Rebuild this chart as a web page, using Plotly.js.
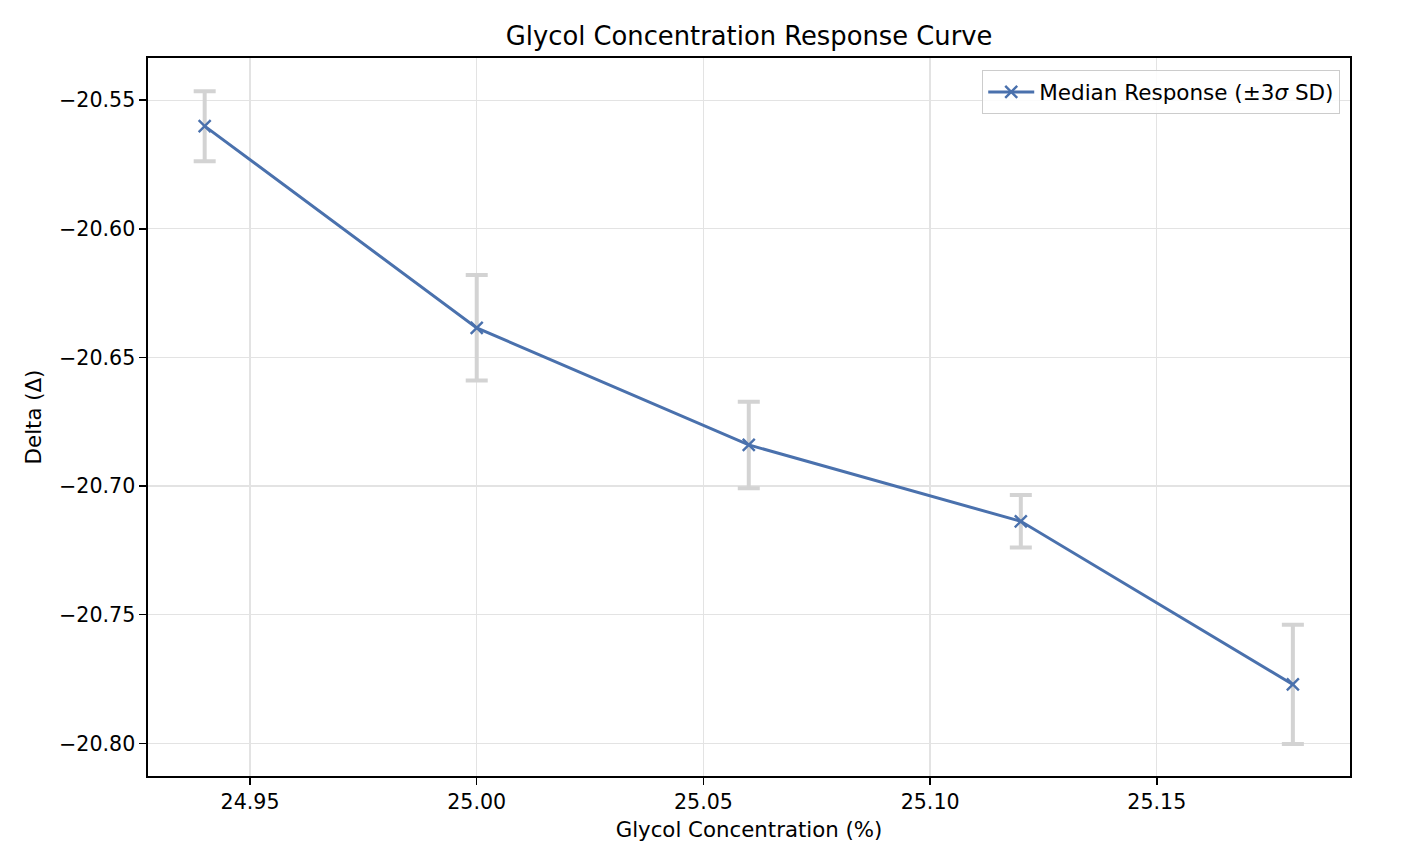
<!DOCTYPE html>
<html>
<head>
<meta charset="utf-8">
<script src="https://cdn.plot.ly/plotly-3.0.1.min.js"></script>
<style>html,body{margin:0;padding:0;background:#fff;}#chart{width:1422px;height:866px;}</style>
</head>
<body>
<div id="chart"></div>
<script>
// Data
const concentration = [24.94, 25.00, 25.06, 25.12, 25.18];
const medianDelta = [-20.5601, -20.6385, -20.6840, -20.7137, -20.7771];
const threeSigma = [0.0136, 0.0205, 0.0168, 0.0102, 0.0232];
const seriesName = 'Median Response (±3<i>σ</i> SD)';

const FONT = 'DejaVu Sans, Liberation Sans, sans-serif';
const BLUE = '#4a71ad';

const trace = {
  x: concentration,
  y: medianDelta,
  type: 'scatter',
  mode: 'lines+markers',
  name: seriesName,
  line: {color: BLUE, width: 3},
  marker: {symbol: 'x-thin', size: 12, color: BLUE, line: {color: BLUE, width: 2.4}},
  error_y: {type: 'data', array: threeSigma, visible: true, color: '#d3d3d3', thickness: 4, width: 11}
};

const axisCommon = {
  showline: true, linecolor: '#000', linewidth: 1.6, mirror: true,
  ticks: 'outside', ticklen: 7, tickwidth: 1.5, tickcolor: '#000',
  showgrid: true, gridcolor: '#e3e3e3', gridwidth: 1.3,
  zeroline: false,
  tickfont: {family: FONT, size: 20.6, color: '#000'},
  tickformat: '.2f', dtick: 0.05
};

const layout = {
  width: 1422, height: 866,
  paper_bgcolor: '#fff', plot_bgcolor: '#fff',
  margin: {l: 148, r: 72, t: 58, b: 90},
  font: {family: FONT, color: '#000'},
  title: {text: 'Glycol Concentration Response Curve', font: {family: FONT, size: 25.8, color: '#000'},
          x: 0.5268, xanchor: 'center', xref: 'container', y: 1 - 36/866, yanchor: 'middle', yref: 'container'},
  xaxis: Object.assign({}, axisCommon, {
    range: [24.9275, 25.1926], tick0: 24.95,
    title: {text: 'Glycol Concentration (%)', font: {family: FONT, size: 21.3, color: '#000'}, standoff: 9}
  }),
  yaxis: Object.assign({}, axisCommon, {
    range: [-20.8127, -20.5336], tick0: -20.80,
    title: {text: 'Delta (Δ)', font: {family: FONT, size: 21.3, color: '#000'}, standoff: 11}
  }),
  showlegend: true,
  legend: {x: 0.9917, xanchor: 'right', y: 0.983, yanchor: 'top', itemwidth: 46,
           bgcolor: 'rgba(255,255,255,0.85)', bordercolor: '#cccccc', borderwidth: 1.2,
           font: {family: FONT, size: 21.5, color: '#000'}}
};

Plotly.newPlot('chart', [trace], layout, {displayModeBar: false, staticPlot: true});
</script>
</body>
</html>
